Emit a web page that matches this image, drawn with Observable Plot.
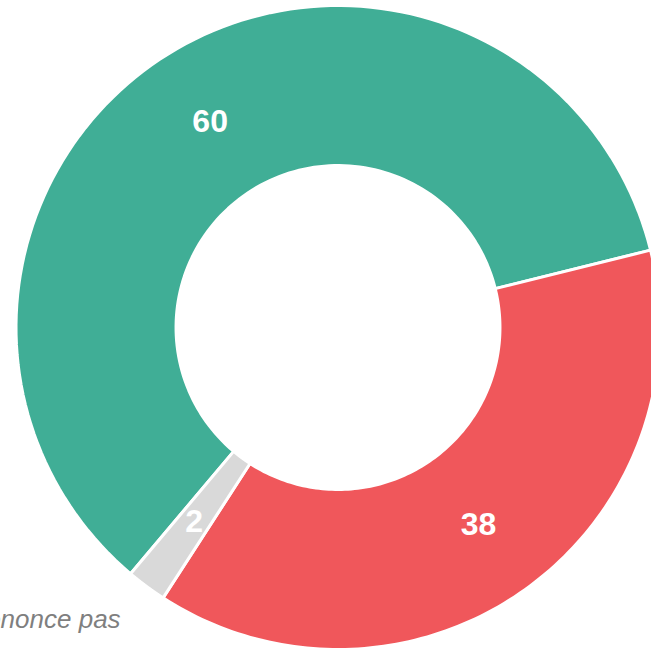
<!DOCTYPE html>
<html>
<head>
<meta charset="utf-8">
<script src="https://cdn.jsdelivr.net/npm/d3@7"></script>
<script src="https://cdn.jsdelivr.net/npm/@observablehq/plot@0.6"></script>
<style>
  html, body { margin: 0; padding: 0; background: #fff; overflow: hidden; }
  #chart svg { display: block; }
</style>
</head>
<body>
<div id="chart"></div>
<script>
// Data
const categories = ["Oui", "Non", "Ne se prononce pas"];
const values = [60, 38, 2];
const colors = ["#40ae96", "#f0575b", "#d9d9d9"];
const valueLabels = ["60", "38", "2"];

const W = 651, H = 649;
const innerRatio = 0.503;
const startDeg = 220.1;

const pie = d3.pie().sort(null).value(d => d.value)
  .startAngle(startDeg * Math.PI / 180)
  .endAngle((startDeg + 360) * Math.PI / 180);
const rows = categories.map((c, i) => ({category: c, value: values[i], label: valueLabels[i]}));
const arcs = pie(rows);

// polygon points for each slice in unit-radius space
const pts = [];
for (const a of arcs) {
  const n = 120;
  for (let k = 0; k <= n; k++) {
    const t = a.startAngle + (a.endAngle - a.startAngle) * k / n;
    pts.push({category: a.data.category, x: Math.sin(t), y: Math.cos(t)});
  }
  for (let k = n; k >= 0; k--) {
    const t = a.startAngle + (a.endAngle - a.startAngle) * k / n;
    pts.push({category: a.data.category, x: innerRatio * Math.sin(t), y: innerRatio * Math.cos(t)});
  }
}
const midR = (1 + innerRatio) / 2;
const labels = arcs.map(a => {
  const m = (a.startAngle + a.endAngle) / 2;
  return {label: a.data.label, x: midR * Math.sin(m), y: midR * Math.cos(m)};
});
const gray = arcs[2];
const gm = (gray.startAngle + gray.endAngle) / 2;
const outside = [{text: categories[2], x: 1.135 * Math.sin(gm), y: 1.13 * Math.cos(gm)}];

const R = 322, cx = 337.5, cy = 327;
const chart = Plot.plot({
  width: W, height: H,
  margin: 0,
  x: {domain: [-cx / R, (W - cx) / R], axis: null},
  y: {domain: [-(H - cy) / R, cy / R], axis: null},
  color: {domain: categories, range: colors},
  style: {fontFamily: "'Liberation Sans', Arial, sans-serif", background: "#fff"},
  marks: [
    Plot.line(pts, {x: "x", y: "y", z: "category", fill: "category", stroke: "#fff", strokeWidth: 3, curve: "linear-closed"}),
    Plot.text(labels, {x: "x", y: "y", text: "label", fill: "#fff", fontWeight: "bold", fontSize: 32}),
    Plot.text(outside, {x: "x", y: "y", text: "text", fill: "#7f7f7f", fontStyle: "italic", fontSize: 26, textAnchor: "end"})
  ]
});
document.getElementById("chart").appendChild(chart);
</script>
</body>
</html>
